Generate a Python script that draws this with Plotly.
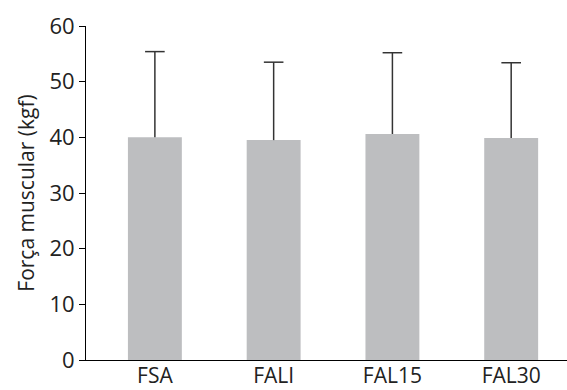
import plotly.graph_objects as go

categories = ["FSA", "FALI", "FAL15", "FAL30"]
means = [40.0, 39.5, 40.6, 39.9]
sd_upper = [15.4, 14.0, 14.6, 13.5]
y_ticks = [0, 10, 20, 30, 40, 50, 60]

tops = [m + s for m, s in zip(means, sd_upper)]
err_x, err_y = [], []
for c, m, t in zip(categories, means, tops):
    err_x += [c, c, None]
    err_y += [m, t, None]

fig = go.Figure()
fig.add_trace(go.Bar(
    x=categories,
    y=means,
    marker=dict(color="#bdbec0", line=dict(width=0)),
    width=0.454,
    hoverinfo="skip",
))
fig.add_trace(go.Scatter(
    x=err_x, y=err_y, mode="lines",
    line=dict(color="#333333", width=1.5),
    hoverinfo="skip",
))
fig.add_trace(go.Scatter(
    x=categories, y=tops, mode="markers",
    marker=dict(symbol="line-ew", size=14, line=dict(color="#333333", width=1.5)),
    hoverinfo="skip",
))

font_family = "'Open Sans', sans-serif"
fig.update_layout(
    width=567, height=390,
    margin=dict(l=86, r=0, t=26, b=30, autoexpand=False),
    paper_bgcolor="white", plot_bgcolor="white",
    showlegend=False,
    font=dict(family=font_family, color="#222222"),
    xaxis=dict(
        range=[-0.58, 3.47], automargin=False,
        showline=True, linecolor="black", linewidth=1,
        ticks="", showgrid=False, zeroline=False,
        ticklabelstandoff=-3,
        tickfont=dict(size=21, color="#222222"),
    ),
    yaxis=dict(
        range=[0, 60], tickvals=y_ticks, automargin=False,
        showline=True, linecolor="black", linewidth=1,
        ticks="outside", ticklen=6, tickcolor="black", tickwidth=1,
        showgrid=False, zeroline=False,
        tickfont=dict(size=22, color="#222222"),
        title=dict(text="Força muscular (kgf)", font=dict(size=21, color="#222222"), standoff=9),
    ),
)

fig.write_html("out.html")
